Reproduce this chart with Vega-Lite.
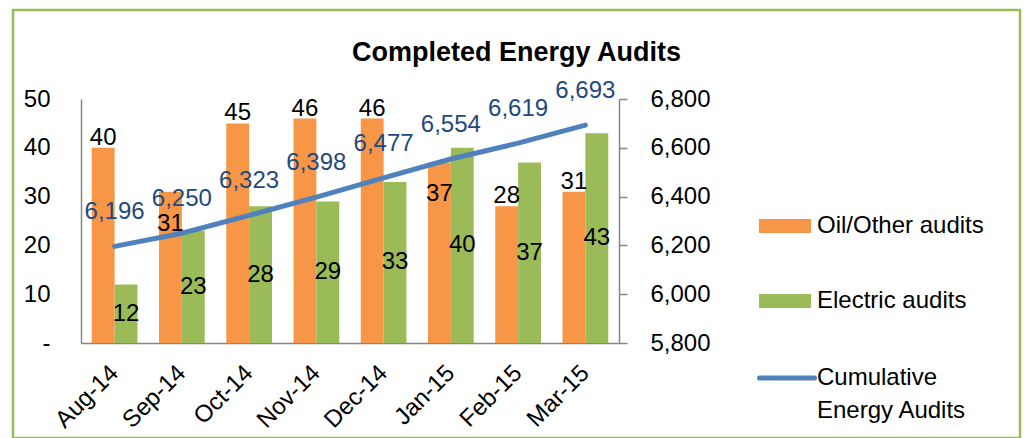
{
  "$schema": "https://vega.github.io/schema/vega-lite/v6.json",
  "autosize": {"type": "none"},
  "padding": {"left": 13, "top": 10, "right": 6, "bottom": 0},
  "width": 1007,
  "height": 428,
  "background": "white",
  "config": {
    "font": "Liberation Sans",
    "view": {"stroke": "#9BBB59", "strokeWidth": 2.5},
    "axis": {"grid": false, "labelFont": "Liberation Sans", "labelFontSize": 24, "labelColor": "#000000", "domainColor": "#868686", "domainWidth": 1.5, "tickColor": "#868686", "tickWidth": 1.5, "title": null},
    "legend": {"labelFont": "Liberation Sans", "labelFontSize": 24, "labelColor": "#000000", "padding": 0, "title": null, "labelBaseline": "middle", "labelLimit": 400}
  },
  "title": {"text": "Completed Energy Audits", "font": "Liberation Sans", "fontSize": 27, "fontWeight": "bold", "color": "#000000", "anchor": "middle", "frame": "group", "baseline": "alphabetic", "offset": 0, "dy": 78},
  "data": {"values": [
    {"month": "Aug-14", "Oil/Other audits": 40, "Electric audits": 12, "Cumulative": 6196},
    {"month": "Sep-14", "Oil/Other audits": 31, "Electric audits": 23, "Cumulative": 6250},
    {"month": "Oct-14", "Oil/Other audits": 45, "Electric audits": 28, "Cumulative": 6323},
    {"month": "Nov-14", "Oil/Other audits": 46, "Electric audits": 29, "Cumulative": 6398},
    {"month": "Dec-14", "Oil/Other audits": 46, "Electric audits": 33, "Cumulative": 6477},
    {"month": "Jan-15", "Oil/Other audits": 37, "Electric audits": 40, "Cumulative": 6554},
    {"month": "Feb-15", "Oil/Other audits": 28, "Electric audits": 37, "Cumulative": 6619},
    {"month": "Mar-15", "Oil/Other audits": 31, "Electric audits": 43, "Cumulative": 6693}
  ]},
  "encoding": {
    "x": {"field": "month", "type": "nominal", "sort": ["Aug-14","Sep-14","Oct-14","Nov-14","Dec-14","Jan-15","Feb-15","Mar-15"],
      "scale": {"range": [68, 606], "paddingInner": 0.32, "paddingOuter": 0.16},
      "axis": {"orient": "bottom", "offset": -95, "ticks": false, "tickSize": 0, "labelAngle": -45, "labelAlign": "right", "labelBaseline": "middle", "labelPadding": 26}}
  },
  "layer": [
    {
      "transform": [{"fold": ["Oil/Other audits", "Electric audits"], "as": ["series", "count"]}],
      "encoding": {
        "y": {"field": "count", "type": "quantitative", "scale": {"domain": [0, 50], "range": [333, 89], "nice": false, "zero": true},
          "axis": {"orient": "left", "offset": -68, "values": [0, 10, 20, 30, 40, 50], "ticks": false, "tickSize": 0, "labelPadding": 31,
            "labelExpr": "datum.value === 0 ? '-\u00a0\u00a0' : datum.label"}}
      },
      "layer": [
        {
          "mark": {"type": "bar"},
          "encoding": {
            "xOffset": {"field": "series", "type": "nominal", "scale": {"domain": ["Oil/Other audits", "Electric audits"], "paddingInner": 0, "paddingOuter": 0}},
            "fill": {"field": "series", "type": "nominal", "scale": {"domain": ["Oil/Other audits", "Electric audits"], "range": ["#F79646", "#9BBB59"]},
              "legend": {"orient": "none", "legendX": 746, "legendY": 190, "symbolType": "M-1,-0.27H1V0.27H-1Z", "symbolSize": 2704, "symbolStrokeWidth": 0, "labelOffset": 6, "rowPadding": 37}}
          }
        },
        {
          "transform": [{"filter": "datum.series === 'Oil/Other audits' && datum.month !== 'Sep-14' && datum.month !== 'Jan-15'"}],
          "mark": {"type": "text", "baseline": "alphabetic", "dy": -3, "fontSize": 24, "font": "Liberation Sans", "color": "#000000"},
          "encoding": {
            "xOffset": {"field": "series", "type": "nominal", "scale": {"domain": ["Oil/Other audits", "Electric audits"]}},
            "text": {"field": "count", "type": "quantitative"}
          }
        },
        {
          "transform": [{"filter": "datum.series === 'Oil/Other audits' && (datum.month === 'Sep-14' || datum.month === 'Jan-15')"}],
          "mark": {"type": "text", "baseline": "middle", "dy": 32, "fontSize": 24, "font": "Liberation Sans", "color": "#000000"},
          "encoding": {
            "xOffset": {"field": "series", "type": "nominal", "scale": {"domain": ["Oil/Other audits", "Electric audits"]}},
            "text": {"field": "count", "type": "quantitative"}
          }
        },
        {
          "transform": [{"filter": "datum.series === 'Electric audits'"}],
          "mark": {"type": "text", "baseline": "middle", "fontSize": 24, "font": "Liberation Sans", "color": "#000000"},
          "encoding": {
            "xOffset": {"field": "series", "type": "nominal", "scale": {"domain": ["Oil/Other audits", "Electric audits"]}},
            "y": {"field": "count", "type": "quantitative", "stack": "zero", "bandPosition": 0.5},
            "text": {"field": "count", "type": "quantitative"}
          }
        }
      ]
    },
    {
      "encoding": {
        "y": {"field": "Cumulative", "type": "quantitative", "scale": {"domain": [5800, 6800], "range": [333, 89], "nice": false, "zero": false},
          "axis": {"orient": "right", "offset": -401, "values": [5800, 6000, 6200, 6400, 6600, 6800], "format": ",d", "tickSize": 8, "labelPadding": 23}}
      },
      "layer": [
        {
          "mark": {"type": "line", "strokeWidth": 5, "strokeCap": "round"},
          "encoding": {
            "stroke": {"datum": "Cumulative|Energy Audits", "scale": {"range": ["#4F81BD"]},
              "legend": {"orient": "none", "legendX": 744, "legendY": 338, "symbolType": "stroke", "symbolSize": 3025, "symbolStrokeWidth": 5, "labelOffset": 0,
                "labelExpr": "split(datum.label, '|')",
                "encode": {"labels": {"update": {"lineHeight": {"value": 33}}}, "symbols": {"update": {"strokeCap": {"value": "round"}}}}}}
          }
        },
        {
          "mark": {"type": "text", "baseline": "middle", "dy": -34, "fontSize": 24, "font": "Liberation Sans", "color": "#1F497D"},
          "encoding": {
            "text": {"field": "Cumulative", "type": "quantitative", "format": ","}
          }
        }
      ]
    }
  ],
  "resolve": {"scale": {"y": "independent"}}
}
